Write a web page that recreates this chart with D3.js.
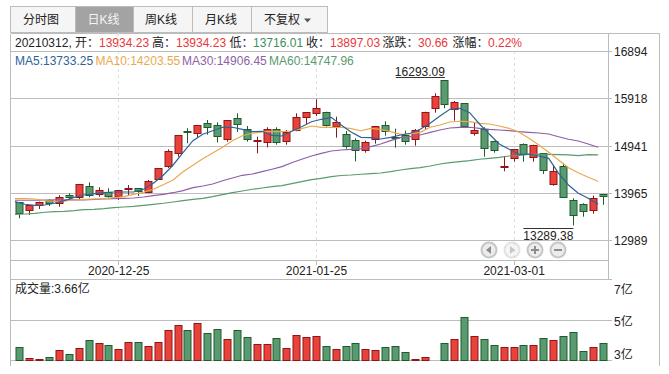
<!DOCTYPE html>
<html>
<head>
<meta charset="utf-8">
<script src="https://cdn.jsdelivr.net/npm/d3@7/dist/d3.min.js"></script>
<style>
  body { margin: 0; background: #fff; }
  svg { display: block; }
  text { font-family: "Liberation Sans", "Noto Sans CJK SC", sans-serif; font-size: 12px; fill: #222; }
</style>
</head>
<body>
<div id="chart"></div>
<script>
const dates = ['2020-12-11','2020-12-14','2020-12-15','2020-12-16','2020-12-17','2020-12-18','2020-12-21','2020-12-22','2020-12-23','2020-12-24',
  '2020-12-25','2020-12-28','2020-12-29','2020-12-30','2020-12-31','2021-01-04','2021-01-05','2021-01-06','2021-01-07','2021-01-08',
  '2021-01-11','2021-01-12','2021-01-13','2021-01-14','2021-01-15','2021-01-18','2021-01-19','2021-01-20','2021-01-21','2021-01-22',
  '2021-01-25','2021-01-26','2021-01-27','2021-01-28','2021-01-29','2021-02-01','2021-02-02','2021-02-03','2021-02-04','2021-02-05',
  '2021-02-08','2021-02-09','2021-02-10','2021-02-18','2021-02-19','2021-02-22','2021-02-23','2021-02-24','2021-02-25','2021-02-26',
  '2021-03-01','2021-03-02','2021-03-03','2021-03-04','2021-03-05','2021-03-08','2021-03-09','2021-03-10','2021-03-11','2021-03-12'];

const opens = [13774,13595,13706,13816,13760,13913,13871,14099,13925,13987,
  13884,14029,14057,13975,14235,14512,14780,15235,15194,15400,
  15355,15070,15504,15289,15028,15008,15276,15049,15247,15524,
  15607,15640,15330,15173,15049,14863,15070,15359,15123,15159,
  15090,15330,15702,16293.09,15696,15813,15185,15276,15028,14491,
  14677,14966,14698,14780,14146,14518,13810,13727,13623,13934.23];
const closes = [13553,13706,13768,13754,13884,13863,14140,13913,14016,13904,
  14016,14057,13987,14202,14471,14822,15152,15206,15359,15318,
  15128,15462,15380,15090,15049,15276,15008,15227,15524,15628,
  15710,15380,15421,14917,14842,15020,15338,15227,15103,15028,
  15268,15628,15958,15793,15834,15330,15256,14884,14834,14512,
  14863,14766,14946,14421,14409,13871,13491,13574,13866.37,13897.03];
const highs = [13774,13706,13781,13830,13913,13954,14140,14181,14078,14057,
  14022,14126,14057,14229,14471,14863,15152,15297,15359,15468,
  15421,15462,15607,15344,15123,15318,15318,15262,15607,15628,
  15896,15640,15537,15241,15090,15041,15338,15442,15289,15247,
  15283,15640,16020,16293.09,15861,15813,15413,15318,15041,14725,
  14863,14987,14958,14780,14539,14580,13851,13748,13905,13934.23];
const lows = [13438,13506,13630,13692,13677,13795,13816,13871,13884,13863,
  13816,13919,13898,13954,14229,14477,14710,14987,15111,15165,
  15004,15020,15221,15020,14780,14904,14958,14958,15235,15386,
  15551,15330,15103,14876,14615,14793,14979,15144,14896,14958,
  14937,15276,15619,15710,15454,15330,15144,14710,14793,14409,
  14607,14607,14607,14353,14111,13871,13289.38,13471,13533,13716.01];
// volume in 亿
const volumes = [3.64,3.10,3.05,3.15,3.49,3.30,3.59,3.99,3.84,3.74,
  3.54,3.89,3.89,3.69,3.89,4.48,4.72,4.48,4.82,4.33,
  4.53,4.03,4.48,4.13,3.79,3.79,4.08,3.59,4.23,4.13,
  4.18,3.69,3.54,3.69,3.84,3.54,3.49,3.64,3.69,3.39,
  3.05,3.15,3.02,3.84,4.03,5.12,4.18,4.03,3.74,3.64,
  3.64,3.74,3.74,4.08,3.99,4.18,4.38,3.44,3.64,3.84];

const ma5 = [13781,13727,13706,13712,13748,13801,13871,13919,13946,13966,
  13981,13981,13981,14037,14161,14326,14539,14793,15041,15173,
  15247,15318,15318,15276,15227,15235,15152,15138,15235,15330,
  15433,15483,15524,15365,15221,15111,15103,15076,15111,15159,
  15194,15276,15400,15551,15690,15710,15619,15386,15173,14973,
  14863,14760,14766,14725,14677,14367,14126,13954,13851,13733.25];
const ma10 = [13843,13843,13836,13801,13789,13795,13816,13830,13836,13843,
  13863,13884,13933,13975,14037,14132,14229,14400,14533,14669,
  14787,14904,15041,15144,15194,15221,15227,15227,15241,15289,
  15344,15318,15318,15318,15289,15247,15297,15276,15227,15173,
  15179,15214,15318,15365,15427,15442,15433,15400,15386,15344,
  15297,15214,15090,14952,14801,14642,14483,14380,14285,14203.55];
const ma30 = [13810,13810,13810,13814,13816,13816,13816,13816,13830,13836,
  13843,13851,13857,13878,13904,13933,13966,14008,14070,14105,
  14146,14214,14270,14326,14353,14400,14450,14504,14586,14657,
  14725,14780,14828,14849,14863,14876,14917,14973,15041,15103,
  15123,15159,15214,15262,15303,15318,15318,15297,15276,15262,
  15247,15227,15214,15200,15179,15123,15070,15035,14973,14906.45];
const ma60 = [13520,13526,13541,13562,13574,13582,13595,13615,13623,13636,
  13657,13671,13685,13706,13727,13748,13774,13801,13830,13851,
  13884,13925,13966,14002,14037,14064,14090,14111,14152,14194,
  14235,14264,14297,14322,14332,14347,14359,14373,14400,14435,
  14462,14483,14518,14559,14586,14607,14628,14657,14677,14698,
  14725,14739,14760,14760,14760,14752,14746,14731,14752,14747.96];

const priceTicks = [16894,15918,14941,13965,12989];
const volumeTicks = [7,5,3];
const dateTicks = ['2020-12-25','2021-01-25','2021-03-01'];
const tabLabels = ['分时图','日K线','周K线','月K线','不复权'];

const RED = '#e8433b', RED_DARK = '#8f1518';
const GREEN = '#5a9a70', GREEN_DARK = '#1f5c2a';
const LINE = '#bcbcbc';

const svg = d3.select('#chart').append('svg').attr('width', 669).attr('height', 374);

const x = d3.scaleBand().domain(dates).range([15, 608]);
const y = d3.scaleLinear().domain([12989, 16894]).range([240, 51]);
const yVol = d3.scaleLinear().domain([3, 7]).range([360, 279]);
const cx = d => x(d) + x.bandwidth() / 2;

// Tabs
const tabEdges = [10, 75, 133, 192, 251, 327];
const tabCenters = [41, 103.5, 161, 221, 282];
const tabs = svg.append('g');
tabLabels.forEach((label, i) => {
    tabs.append('rect')
        .attr('x', tabEdges[i] + 0.5).attr('y', 6.5)
        .attr('width', tabEdges[i + 1] - tabEdges[i]).attr('height', 26)
        .attr('fill', i === 1 ? '#a3a3a3' : '#f5f5f5')
        .attr('stroke', LINE);
    tabs.append('text')
        .attr('x', tabCenters[i]).attr('y', 24)
        .attr('text-anchor', 'middle')
        .style('fill', i === 1 ? '#f4f4f4' : '#222')
        .text(label);
});
tabs.append('path').attr('d', 'M304,18.5h7l-3.5,4z').attr('fill', '#555');

// Frame
const frame = svg.append('g').attr('stroke', LINE).attr('shape-rendering', 'crispEdges');
[[10, 33, 659, 33], [10, 33, 10, 365], [659, 33, 659, 365], [608, 33, 608, 279], [10, 260, 608, 260]]
    .forEach(l => frame.append('line')
        .attr('x1', l[0] + 0.5).attr('y1', l[1] + 0.5)
        .attr('x2', l[2] + 0.5).attr('y2', l[3] + 0.5));

// Dashed date guides
svg.append('g').selectAll('line')
    .data(dateTicks)
    .join('line')
    .attr('x1', d => Math.floor(cx(d)) + 0.5).attr('x2', d => Math.floor(cx(d)) + 0.5)
    .attr('y1', 33).attr('y2', 260)
    .attr('stroke', '#dedede').attr('stroke-dasharray', '3,3');

// Grid lines and axes
const styleAxis = g => {
    g.select('.domain').remove();
    g.selectAll('line').attr('stroke', LINE).attr('shape-rendering', 'crispEdges');
    g.selectAll('text').attr('dy', null);
};

svg.append('g').attr('transform', 'translate(608,0)')
    .call(d3.axisLeft(y).tickValues(priceTicks).tickSize(598).tickFormat(''))
    .call(styleAxis);
svg.append('g').attr('transform', 'translate(608,0)')
    .call(d3.axisRight(y).tickValues(priceTicks).tickSize(4).tickPadding(2).tickFormat(d3.format('d')))
    .call(styleAxis)
    .selectAll('text').attr('y', null).attr('dy', '4.5').attr('font-size', 12);

svg.append('g').attr('transform', 'translate(608,0)')
    .call(d3.axisLeft(yVol).tickValues(volumeTicks).tickSize(598).tickFormat(''))
    .call(styleAxis);
const volAxis = svg.append('g').attr('transform', 'translate(608,0)')
    .call(d3.axisRight(yVol).tickValues(volumeTicks).tickSize(4).tickPadding(2).tickFormat(d => d + '亿'))
    .call(styleAxis);
volAxis.selectAll('text').attr('dy', d => d === 7 ? 14 : d === 5 ? 5.5 : -2);

const xAxis = svg.append('g').attr('transform', 'translate(0,260)')
    .call(d3.axisBottom(x).tickValues(dateTicks).tickSize(5).tickPadding(0))
    .call(styleAxis);
xAxis.selectAll('text').attr('y', 15).attr('dy', null);

// Candles
const isUp = i => closes[i] >= opens[i];
const candles = svg.append('g').selectAll('g')
    .data(dates)
    .join('g');
candles.append('line')
    .attr('x1', d => Math.floor(cx(d)) + 0.5).attr('x2', d => Math.floor(cx(d)) + 0.5)
    .attr('y1', (d, i) => y(highs[i]))
    .attr('y2', (d, i) => y(lows[i]))
    .attr('stroke', (d, i) => isUp(i) ? RED_DARK : GREEN_DARK);
candles.append('rect')
    .attr('x', d => Math.floor(cx(d)) - 3)
    .attr('y', (d, i) => Math.round(y(Math.max(opens[i], closes[i]))) + 0.5)
    .attr('width', 7)
    .attr('height', (d, i) => Math.max(1, Math.round(Math.abs(y(opens[i]) - y(closes[i])))))
    .attr('fill', (d, i) => isUp(i) ? RED : GREEN)
    .attr('stroke', (d, i) => isUp(i) ? RED_DARK : GREEN_DARK);

// Moving averages, drawn from the left edge of each band
const maSeries = [
    {label: 'MA5', values: ma5, color: '#2e6396'},
    {label: 'MA10', values: ma10, color: '#e9a94f'},
    {label: 'MA30', values: ma30, color: '#8e5fa8'},
    {label: 'MA60', values: ma60, color: '#5a9a70'}
];
const maLine = d3.line().x((d, i) => x(dates[i])).y(d => y(d));
[ma60, ma30, ma10, ma5].forEach(values => {
    svg.append('path')
        .attr('d', maLine(values))
        .attr('fill', 'none')
        .attr('stroke', maSeries.find(s => s.values === values).color)
        .attr('stroke-width', 1.2);
});

// Volume bars
svg.append('g').selectAll('rect')
    .data(dates)
    .join('rect')
    .attr('x', d => Math.floor(cx(d)) - 3)
    .attr('y', (d, i) => Math.round(yVol(volumes[i])) + 0.5)
    .attr('width', 7)
    .attr('height', (d, i) => Math.max(0, 360 - Math.round(yVol(volumes[i]))))
    .attr('fill', (d, i) => isUp(i) ? RED : GREEN)
    .attr('stroke', (d, i) => isUp(i) ? RED_DARK : GREEN_DARK);

// Quote header
const last = dates.length - 1;
const quote = [
    {x: 15, text: '20210312, 开：', color: '#222'},
    {x: 99, text: opens[last].toFixed(2), color: '#e8383b'},
    {x: 152, text: '高：', color: '#222'},
    {x: 176, text: highs[last].toFixed(2), color: '#e8383b'},
    {x: 229.5, text: '低：', color: '#222'},
    {x: 253, text: lows[last].toFixed(2), color: '#3e8f5e'},
    {x: 306, text: '收：', color: '#222'},
    {x: 330, text: closes[last].toFixed(2), color: '#e8383b'},
    {x: 382.5, text: '涨跌：', color: '#222'},
    {x: 418, text: '30.66', color: '#e8383b'},
    {x: 452.5, text: '涨幅：', color: '#222'},
    {x: 488, text: '0.22%', color: '#e8383b'}
];
svg.append('g').selectAll('text')
    .data(quote)
    .join('text')
    .attr('x', d => d.x).attr('y', 47)
    .style('fill', d => d.color)
    .text(d => d.text);

const maLabelX = [15, 95.5, 182, 269];
svg.append('g').selectAll('text')
    .data(maSeries)
    .join('text')
    .attr('x', (d, i) => maLabelX[i]).attr('y', 65)
    .style('fill', d => d.color)
    .text(d => d.label + ':' + d.values[last].toFixed(2));

svg.append('text').attr('x', 15).attr('y', 293).text('成交量:3.66亿');

// High and low marks
const highIndex = d3.maxIndex(highs), lowIndex = d3.minIndex(lows);
svg.append('text').attr('x', cx(dates[highIndex]))
    .attr('y', 76).attr('text-anchor', 'end').text(highs[highIndex].toFixed(2));
svg.append('line')
    .attr('x1', cx(dates[highIndex]) - 49).attr('x2', cx(dates[highIndex]))
    .attr('y1', 77.5).attr('y2', 77.5).attr('stroke', '#333');
svg.append('text').attr('x', cx(dates[lowIndex]))
    .attr('y', 240).attr('text-anchor', 'end').text(lows[lowIndex].toFixed(2));
svg.append('line')
    .attr('x1', cx(dates[lowIndex]) - 50).attr('x2', cx(dates[lowIndex]))
    .attr('y1', 228.5).attr('y2', 228.5).attr('stroke', '#333');

// Zoom / pan buttons
const buttons = svg.append('g');
const buttonX = [489, 512, 535, 558];
buttonX.forEach((bx, i) => {
    const g = buttons.append('g')
        .attr('transform', `translate(${bx},250)`)
        .attr('opacity', i === 1 ? 0.5 : 1);
    g.append('circle').attr('r', 7.5).attr('fill', '#ececec').attr('stroke', '#c6c6c6').attr('stroke-width', 2);
    const mark = '#8d8d8d';
    if (i === 0) g.append('path').attr('d', 'M-3,0L2,-4V4z').attr('fill', mark);
    if (i === 1) g.append('path').attr('d', 'M3,0L-2,-4V4z').attr('fill', mark);
    if (i === 2) g.append('path').attr('d', 'M-4,-1h3v-3h2v3h3v2h-3v3h-2v-3h-3z').attr('fill', mark);
    if (i === 3) g.append('path').attr('d', 'M-4,-1h8v2h-8z').attr('fill', mark);
});
</script>
</body>
</html>
